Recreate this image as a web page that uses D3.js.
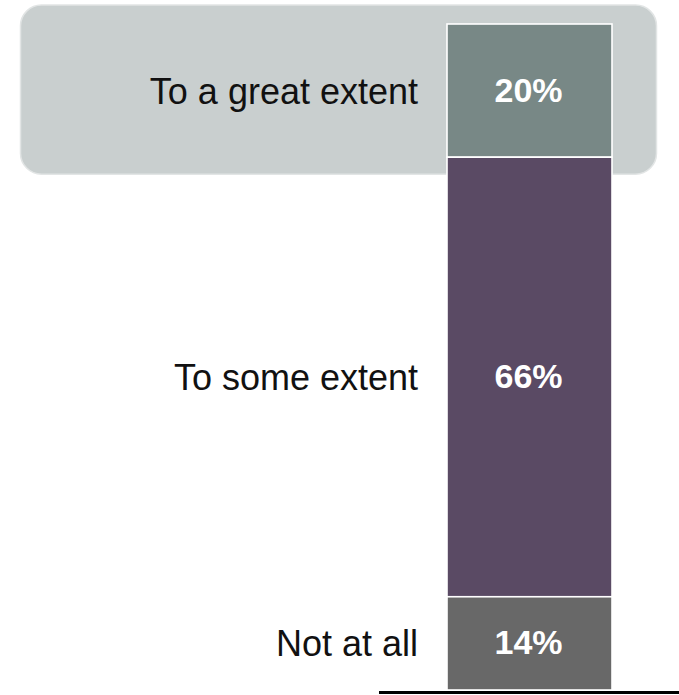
<!DOCTYPE html>
<html>
<head>
<meta charset="utf-8">
<script src="https://cdn.jsdelivr.net/npm/d3@7"></script>
<style>
  html, body { margin: 0; padding: 0; background: #ffffff; }
  svg { display: block; font-family: "Liberation Sans", Arial, sans-serif; }
</style>
</head>
<body>
<svg id="chart" width="679" height="695"></svg>
<script>
// Share of respondents per answer, stacked top to bottom
const categories = ["To a great extent", "To some extent", "Not at all"];
const values = [20, 66, 14];
const colors = ["#788886", "#5a4a64", "#686868"];
const highlighted = "To a great extent";

const svg = d3.select("#chart");
const width = 679, height = 695;

// Vertical value scale: 0% at the baseline, 100% at the top of the bar
const y = d3.scaleLinear().domain([0, 100]).range([690, 24]);
// Single-band horizontal scale for the stacked column
const x = d3.scaleBand().domain(["all"]).range([447, 612]).padding(0);

// Stack the answers, the first one sitting on top
let acc = 100;
const segments = categories.map((c, i) => {
  const top = acc;
  acc -= values[i];
  return { category: c, value: values[i], top: top, bottom: acc, color: colors[i] };
});

// Rounded highlight panel behind the emphasised answer
const hl = segments.find(s => s.category === highlighted);
svg.append("rect")
  .attr("x", 20.5)
  .attr("y", y(hl.top) - 19)
  .attr("width", 636)
  .attr("height", y(hl.bottom) - y(hl.top) + 36)
  .attr("rx", 21)
  .attr("ry", 21)
  .attr("fill", "#c9cfcf")
  .attr("stroke", "#e2e5e5")
  .attr("stroke-width", 1.5);

// Bar segments
svg.selectAll("rect.seg")
  .data(segments)
  .join("rect")
  .attr("class", "seg")
  .attr("x", x("all"))
  .attr("width", x.bandwidth())
  .attr("y", d => y(d.top))
  .attr("height", d => y(d.bottom) - y(d.top))
  .attr("fill", d => d.color)
  .attr("stroke", "#ffffff")
  .attr("stroke-width", 1.6);

// Percentage labels inside the segments
svg.selectAll("text.val")
  .data(segments)
  .join("text")
  .attr("class", "val")
  .attr("x", x("all") + x.bandwidth() / 2 - 1)
  .attr("y", d => (y(d.top) + y(d.bottom)) / 2 + 11)
  .attr("text-anchor", "middle")
  .attr("fill", "#ffffff")
  .attr("font-weight", "bold")
  .attr("font-size", 34)
  .text(d => d.value + "%");

// Category labels to the left of the bar
svg.selectAll("text.cat")
  .data(segments)
  .join("text")
  .attr("class", "cat")
  .attr("x", x("all") - 29)
  .attr("y", d => (y(d.top) + y(d.bottom)) / 2 + 13)
  .attr("text-anchor", "end")
  .attr("fill", "#111111")
  .attr("font-size", 36)
  .text(d => d.category);

// Baseline
svg.append("line")
  .attr("x1", 379)
  .attr("x2", width)
  .attr("y1", y(0) + 2.5)
  .attr("y2", y(0) + 2.5)
  .attr("stroke", "#000000")
  .attr("stroke-width", 3);
</script>
</body>
</html>
